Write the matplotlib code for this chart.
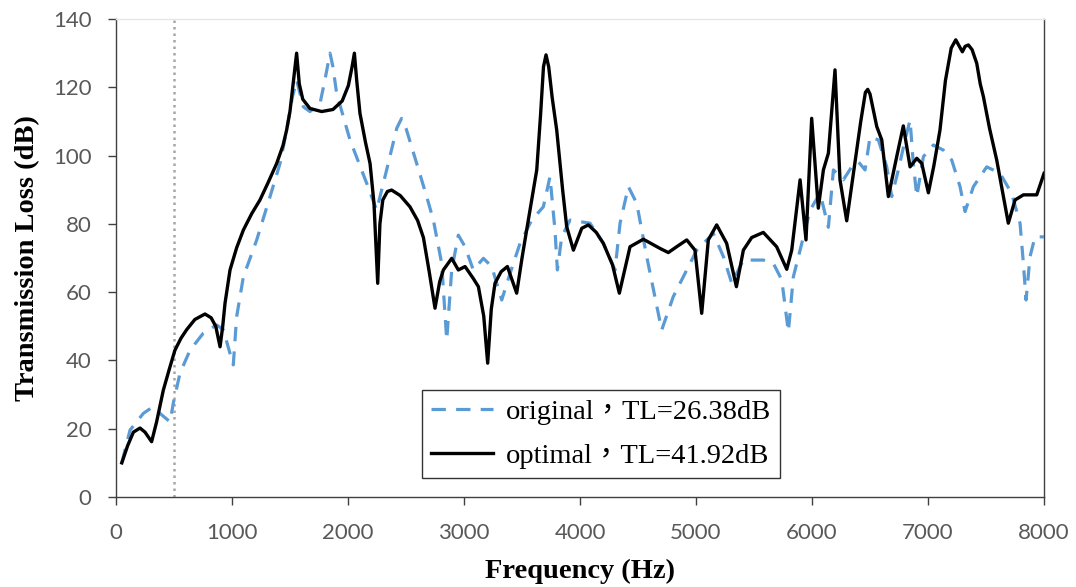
import matplotlib
matplotlib.use("Agg")
import matplotlib.pyplot as plt

# optimal (black solid)
opt_f = [50, 100, 150, 207, 250, 307, 350, 408, 460, 508, 560, 609, 680, 767, 820, 860, 897, 920,
         940, 983, 1040, 1098, 1170, 1241, 1310, 1385, 1440, 1471, 1500, 1530, 1557, 1580, 1610,
         1672, 1773, 1870, 1950, 2003, 2035, 2055, 2075, 2103, 2150, 2190, 2224, 2256, 2275, 2300,
         2340, 2376, 2450, 2534, 2600, 2650, 2700, 2750, 2790, 2822, 2894, 2951, 3009, 3080, 3124,
         3170, 3204, 3235, 3267, 3320, 3374, 3454, 3500, 3540, 3627, 3660, 3685, 3707, 3730, 3760,
         3799, 3850, 3885, 3943, 4015, 4072, 4140, 4201, 4280, 4339, 4431, 4546, 4690, 4761, 4833,
         4920, 4991, 5049, 5106, 5178, 5264, 5348, 5408, 5480, 5580, 5695, 5782, 5825, 5897, 5948,
         5997, 6054, 6098, 6141, 6198, 6241, 6299, 6385, 6420, 6460, 6480, 6500, 6558, 6601, 6658,
         6730, 6787, 6845, 6903, 6946, 7003, 7050, 7103, 7150, 7200, 7239, 7270, 7296, 7320, 7348,
         7380, 7420, 7450, 7477, 7530, 7592, 7650, 7692, 7750, 7822, 7937, 8000]
opt_tl = [10, 15, 19, 20.2, 19, 16.2, 22, 31.3, 37.5, 43, 46.5, 49, 52, 53.6, 52.5, 50, 44, 50,
          56.8, 66.5, 73, 78.2, 83, 87, 92, 97.7, 103, 107.5, 113, 122, 130, 121, 116.5,
          113.8, 112.9, 113.5, 116, 120.5, 126, 130, 122, 112.4, 104, 97.7, 86, 62.6, 80, 87,
          89.5, 89.9, 88.3, 85, 81, 76, 66, 55.3, 63, 66.5, 69.9, 66.5, 67.5, 64, 61.6,
          53, 39.2, 55, 62.6, 66, 67.5, 59.7, 70, 78.2, 95.8, 112, 126, 129.5, 126, 117,
          107.5, 90, 79.2, 72.3, 78.7, 79.7, 77.5, 74.3, 68, 59.7, 73.3, 75.5, 72.8, 71.6, 73.3,
          75.3, 72.3, 53.8, 75.3, 79.7, 74.3, 61.6, 72.3, 76, 77.5, 73.3, 66.7, 72.3, 92.9, 75.3,
          110.9, 84.6, 95.8, 100.7, 125.1, 92.9, 80.9, 101.6, 110, 118.5, 119.4, 118, 108.5, 104.6, 88,
          99.7, 108.7, 96.7, 99.2, 97.7, 89.1, 97, 107.5, 122, 131.5, 133.9, 132, 130.4, 132, 132.4,
          131, 127, 121, 117.3, 108, 98.7, 88, 80.2, 87, 88.5, 88.5, 94.8]

# original (blue dashed)
ori_f = [50, 121, 236, 322, 379, 466, 494, 552, 638, 753, 868, 925, 1011, 1040, 1098, 1213,
         1328, 1414, 1471, 1520, 1557, 1615, 1672, 1759, 1800, 1845, 1870, 1902, 2017, 2161, 2247,
         2333, 2420, 2462, 2500, 2592, 2678, 2736, 2807, 2851, 2894, 2951, 3009, 3080, 3167, 3239,
         3325, 3397, 3483, 3583, 3684, 3741, 3784, 3805, 3842, 3914, 4086, 4201, 4302, 4345, 4417,
         4489, 4575, 4704, 4804, 4920, 5006, 5149, 5236, 5308, 5408, 5580, 5667, 5739, 5796, 5839,
         5897, 5983, 6069, 6141, 6184, 6270, 6342, 6399, 6457, 6500, 6572, 6644, 6687, 6744, 6802,
         6845, 6873, 6903, 6960, 7046, 7132, 7204, 7276, 7319, 7391, 7506, 7621, 7721, 7793, 7822,
         7845, 7879, 7922, 8000]
ori_tl = [10, 19.6, 24.5, 26.5, 24.5, 22, 27.5, 36.3, 43, 48, 50.4, 49, 38.7, 52.8, 64.5, 75.3,
          88, 97.7, 107.5, 117, 122.1, 114.3, 112.9, 115.3, 122, 130, 126, 118.2, 104.6, 91.9, 84,
          95.8, 108, 110.9, 108, 97.7, 88, 81.1, 68.5, 46, 66.5, 76.7, 73.3, 66.5, 69.9, 67.5,
          57.7, 65.5, 74.3, 81.1, 85, 93.8, 78.2, 66.5, 76.2, 81.1, 80.2, 74.3, 66.5, 80.2, 90.9,
          86, 70.4, 48.9, 58.7, 66.5, 72.3, 77.2, 70.4, 62.6, 69.4, 69.4, 68.4, 63.6, 48.4, 64.5,
          72.3, 84, 89, 79, 95.8, 92.9, 96.7, 98.2, 95.8, 105.5, 104.6, 96.7, 88, 95.8, 104.6,
          110.4, 97.7, 88, 99.7, 103.1, 101.6, 98.7, 90.9, 83.6, 90.9, 96.7, 94.8, 88.9, 80.2, 68.4,
          57.7, 70.4, 76.2, 76.2]

labels = ["original\uff0cTL=26.38dB", "optimal\uff0cTL=41.92dB"]
x_ticks = [0, 1000, 2000, 3000, 4000, 5000, 6000, 7000, 8000]
y_ticks = [0, 20, 40, 60, 80, 100, 120, 140]
vline_f = 500

fig = plt.figure(figsize=(10.76, 5.87), dpi=100)
ax = fig.add_axes([0.1078, 0.1533, 0.8625, 0.8143])

ax.plot(ori_f, ori_tl, color="#5B9BD5", lw=2.3, linestyle=(0, (4.5, 3.2)),
        label=labels[0], zorder=3)
ax.plot(opt_f, opt_tl, color="black", lw=2.4, label=labels[1], zorder=4)
ax.axvline(vline_f, color="#a6a6a6", lw=1.8, linestyle=(0, (1, 1.6)), zorder=2)

ax.set_xlim(0, 8000)
ax.set_ylim(0, 140)
ax.set_xticks(x_ticks)
ax.set_yticks(y_ticks)
ax.tick_params(direction="out", length=6, width=1, colors="#404040", labelsize=16)
ax.tick_params(axis="x", pad=13)
ax.tick_params(axis="y", pad=11.5)
for lab in ax.get_xticklabels() + ax.get_yticklabels():
    lab.set_family("Lato")
    lab.set_color("#595959")

for s in ["left", "bottom", "right"]:
    ax.spines[s].set_color("#404040")
    ax.spines[s].set_linewidth(1.0)
ax.spines["top"].set_color("#e6e6e6")
ax.spines["top"].set_linewidth(1.0)

ax.set_xlabel("Frequency (Hz)", family="Liberation Serif", fontweight="bold",
              fontsize=20.5, labelpad=11)
ax.set_ylabel("Transmission Loss (dB)", family="Liberation Serif", fontweight="bold",
              fontsize=20.5, labelpad=9)

leg = ax.legend(loc="lower left", bbox_to_anchor=(0.33, 0.04), frameon=True,
                fancybox=False, edgecolor="black", handlelength=2.2,
                prop={"family": ["Liberation Serif", "Noto Sans CJK TC"], "size": 20.5},
                borderpad=0.3, labelspacing=0.65, handletextpad=0.45, borderaxespad=0)
leg.get_frame().set_linewidth(1.0)

fig.savefig("out.png", dpi=100)
